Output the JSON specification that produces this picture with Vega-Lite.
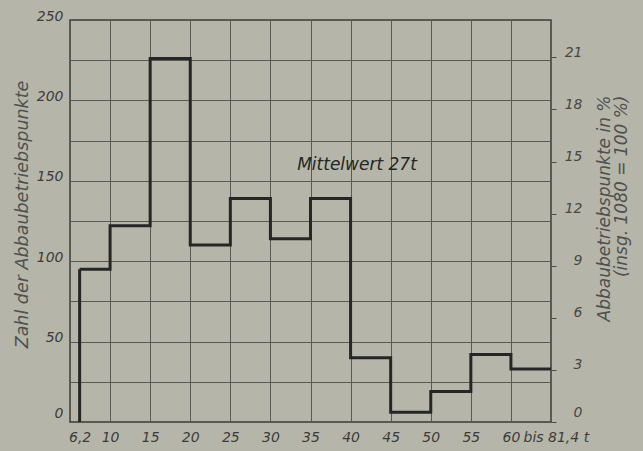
{
  "$schema": "https://vega.github.io/schema/vega-lite/v6.json",
  "width": 481,
  "height": 402,
  "autosize": "none",
  "padding": {"left": 70, "top": 20, "right": 92, "bottom": 29},
  "background": "#b5b6a9",
  "config": {
    "view": {"stroke": "#3a3a3a", "strokeWidth": 1.5},
    "font": "DejaVu Sans",
    "axis": {
      "domain": false,
      "labelFont": "DejaVu Sans",
      "labelFontStyle": "italic",
      "labelFontSize": 14,
      "labelColor": "#3c3c3c",
      "titleFont": "DejaVu Sans",
      "titleFontStyle": "italic",
      "titleFontWeight": "normal",
      "titleFontSize": 17.5,
      "titleColor": "#505050",
      "gridColor": "#5a5a55",
      "gridOpacity": 1,
      "gridWidth": 1
    }
  },
  "data": {
    "values": [
      {"lo": 6.2, "hi": 10, "n": 95},
      {"lo": 10, "hi": 15, "n": 122},
      {"lo": 15, "hi": 20, "n": 226},
      {"lo": 20, "hi": 25, "n": 110},
      {"lo": 25, "hi": 30, "n": 139},
      {"lo": 30, "hi": 35, "n": 114},
      {"lo": 35, "hi": 40, "n": 139},
      {"lo": 40, "hi": 45, "n": 40},
      {"lo": 45, "hi": 50, "n": 6},
      {"lo": 50, "hi": 55, "n": 19},
      {"lo": 55, "hi": 60, "n": 42},
      {"lo": 60, "hi": 81.4, "n": 33}
    ]
  },
  "layer": [
    {
      "layer": [
        {
          "transform": [{"fold": ["lo", "hi"], "as": ["end", "x"]}],
          "mark": {"type": "line", "color": "#262626", "strokeWidth": 3, "strokeJoin": "miter"},
          "encoding": {
            "x": {
              "field": "x",
              "type": "quantitative",
              "scale": {"domain": [5, 60, 81.4], "range": [0, 440.92, 481]},
              "axis": {
                "values": [6.2, 10, 15, 20, 25, 30, 35, 40, 45, 50, 55, 60, 81.4],
                "labelExpr": "datum.value == 6.2 ? '6,2' : (datum.value == 81.4 ? 'bis 81,4 t' : datum.label)",
                "labelAlign": {"condition": {"test": "datum.value == 81.4", "value": "left"}, "value": "center"},
                "labelOffset": {"condition": {"test": "datum.value == 81.4", "value": -28}, "value": 0},
                "gridOpacity": {"condition": {"test": "datum.value == 6.2", "value": 0}, "value": 1},
                "labelOverlap": false,
                "ticks": false,
                "labelPadding": 8,
                "labelBaseline": "top",
                "title": null
              }
            },
            "y": {
              "field": "n",
              "type": "quantitative",
              "scale": {"domain": [0, 250], "nice": false},
              "axis": {
                "values": [0, 25, 50, 75, 100, 125, 150, 175, 200, 225, 250],
                "labelExpr": "datum.value % 50 == 0 ? datum.label : ''",
                "labelOverlap": false,
                "ticks": false,
                "labelPadding": 7,
                "labelOffset": {"condition": {"test": "datum.value == 0", "value": -9}, "value": -4},
                "title": "Zahl der Abbaubetriebspunkte",
                "titleAngle": 270,
                "titleAlign": "center",
                "titleBaseline": "middle",
                "titleX": -48,
                "titleY": 194
              }
            },
            "order": [
              {"field": "x", "type": "quantitative"},
              {"field": "end", "type": "nominal"}
            ]
          }
        },
        {
          "transform": [{"filter": "datum.lo == 6.2"}],
          "mark": {"type": "rule", "color": "#262626", "strokeWidth": 3},
          "encoding": {
            "x": {"field": "lo", "type": "quantitative", "scale": {"domain": [5, 60, 81.4], "range": [0, 440.92, 481]}},
            "y": {"field": "n", "type": "quantitative", "scale": {"domain": [0, 250], "nice": false}},
            "y2": {"datum": 0}
          }
        },
        {
          "data": {"values": [{"text": "Mittelwert 27t"}]},
          "mark": {"type": "text", "font": "DejaVu Sans", "fontStyle": "italic", "fontSize": 17, "color": "#262626", "align": "center", "baseline": "middle"},
          "encoding": {
            "x": {"datum": 40.8, "type": "quantitative", "scale": {"domain": [5, 60, 81.4], "range": [0, 440.92, 481]}},
            "y": {"datum": 160, "type": "quantitative", "scale": {"domain": [0, 250], "nice": false}},
            "text": {"field": "text"}
          }
        }
      ]
    },
    {
      "mark": {"type": "rule", "opacity": 0},
      "encoding": {
        "y": {
          "datum": 0,
          "type": "quantitative",
          "scale": {"domain": [0, 23.148148], "nice": false},
          "axis": {
            "orient": "right",
            "values": [0, 3, 6, 9, 12, 15, 18, 21],
            "labelOverlap": false,
            "grid": false,
            "ticks": true,
            "tickSize": 5,
            "tickColor": "#4a4a4a",
            "labelAlign": "right",
            "labelPadding": 26,
            "labelColor": "#474747",
            "labelOffset": {"condition": {"test": "datum.value == 0", "value": -10}, "value": -5},
            "title": ["Abbaubetriebspunkte in %", "(insg. 1080 = 100 %)"],
            "titleAngle": 270,
            "titleAlign": "right",
            "titleBaseline": "top",
            "titleLineHeight": 17,
            "titleFontSize": 17,
            "titleX": 45,
            "titleY": 75
          }
        }
      }
    }
  ],
  "resolve": {"scale": {"y": "independent"}, "axis": {"y": "independent"}}
}
